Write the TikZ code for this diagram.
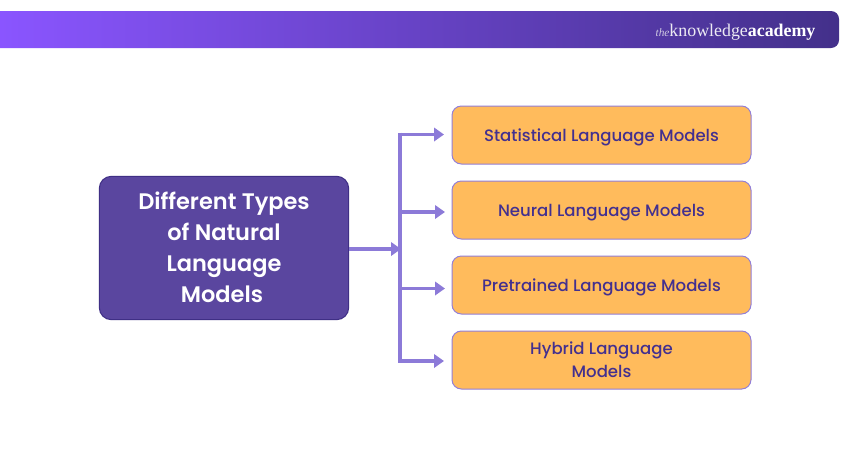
\documentclass[tikz,border=0pt]{standalone}
\usepackage{fontspec}
\usetikzlibrary{arrows.meta,calc}
\setmainfont{Poppins}
\newfontfamily\popmed{Poppins Medium}
\newfontfamily\popsemi{Poppins SemiBold}
\newfontfamily\logofont{Liberation Serif}
\definecolor{barL}{HTML}{8A55FF}
\definecolor{barR}{HTML}{43308A}
\definecolor{mainfill}{HTML}{5A469F}
\definecolor{mainedge}{HTML}{3F2F85}
\definecolor{boxfill}{HTML}{FFBB5C}
\definecolor{boxedge}{HTML}{927FD8}
\definecolor{boxtext}{HTML}{43308F}
\definecolor{conn}{HTML}{8C7AD8}
\newcommand{\lowered}[1]{\raisebox{-5.1pt}[0pt][0pt]{#1}}
\tikzset{
  x=0.75pt,y=-0.75pt,
  mainbox/.style={draw=mainedge,line width=0.75pt,fill=mainfill,rounded corners=9pt,minimum width=187pt,minimum height=107.5pt,inner sep=0pt,align=center,text=white,font=\popsemi\fontsize{16.85}{23.2}\selectfont},
  leafbox/.style={draw=boxedge,line width=0.75pt,fill=boxfill,rounded corners=7pt,minimum width=224.25pt,minimum height=43.5pt,inner sep=0pt,align=center,text=boxtext,font=\popmed\fontsize{12.4}{17}\selectfont},
  conline/.style={draw=conn,line width=2.4pt},
  conarrow/.style={conline,-{Triangle[length=7.5pt,width=10pt]}}
}
\begin{document}
\begin{tikzpicture}
\useasboundingbox (0,0) rectangle (850,450);
\fill[white] (0,0) rectangle (850,450);
\begin{scope}
\clip (-10,11) -- (831,11) arc[start angle=90,end angle=0,radius=6pt] -- (839,40) arc[start angle=0,end angle=-90,radius=6pt] -- (-10,48) -- cycle;
\shade[left color=barL,right color=barR] (0,11) rectangle (839,48);
\end{scope}
\node[anchor=mid,text=white,inner sep=0pt] (logo) at (735.5,32.5) {\logofont\fontsize{13.4}{15}\selectfont{\color{white!75!barR}\itshape\fontsize{8.5}{10}\selectfont the}{\color{white!90!barR}knowledge}\textbf{academy}};
\node[mainbox] (main) at (224,248) {\raisebox{-5.95pt}[0pt][0pt]{\begin{tabular}{@{}c@{}}Different Types\\of Natural\\Language\\Models\hspace*{3pt}\end{tabular}}};
\node[leafbox] (l1) at (601.5,135) {\lowered{Statistical Language Models}};
\node[leafbox] (l2) at (601.5,210) {\lowered{Neural Language Models}};
\node[leafbox] (l3) at (601.5,285) {\lowered{Pretrained Language Models}};
\node[leafbox] (l4) at (601.5,360) {Hybrid Language\\Models};
\coordinate (trunkT) at (400,134.5);
\coordinate (trunkM) at (401,249);
\coordinate (trunkB) at (400,361);
\coordinate (a1) at (444,134.5);
\coordinate (b2) at (400,212);
\coordinate (a2) at (445,212);
\coordinate (b3) at (400,288.5);
\coordinate (a3) at (445,288.5);
\coordinate (a4) at (444,361);
\coordinate (mainR) at (349,249);
\draw[conline,line cap=butt] ($(trunkT)+(0,-2)$) -- ($(trunkB)+(0,2)$);
\draw[conarrow] (trunkT) -- (a1);
\draw[conarrow] (b2) -- (a2);
\draw[conarrow] (b3) -- (a3);
\draw[conarrow] (trunkB) -- (a4);
\draw[conarrow] (mainR) -- (trunkM);
\end{tikzpicture}
\end{document}
